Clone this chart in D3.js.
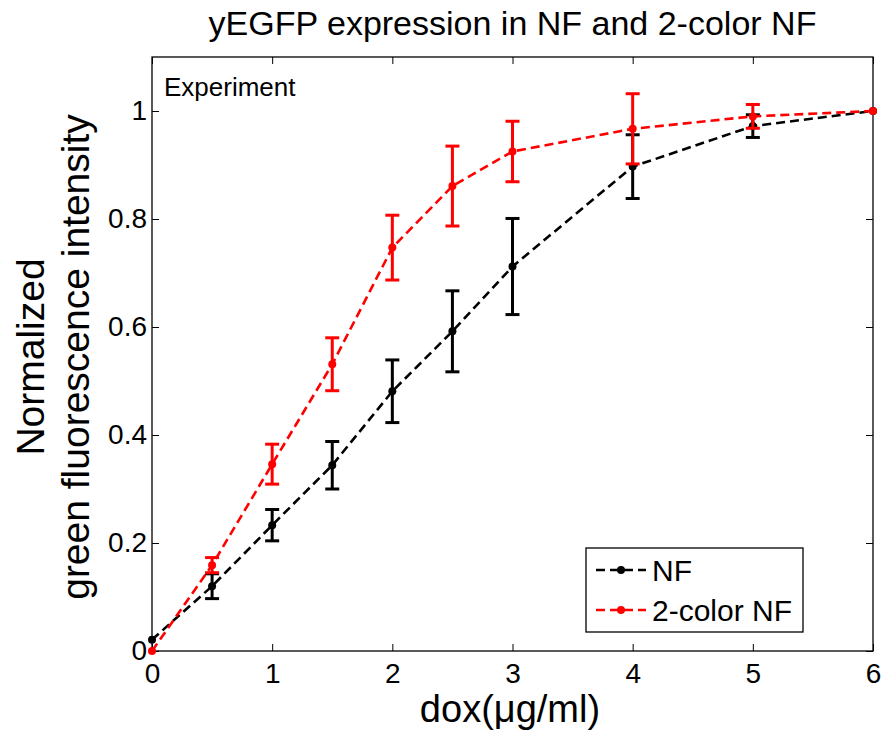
<!DOCTYPE html>
<html>
<head>
<meta charset="utf-8">
<script src="https://cdnjs.cloudflare.com/ajax/libs/d3/7.8.5/d3.min.js"></script>
<style>
  body { margin: 0; background: #fff; }
  svg text { font-family: "Liberation Sans", Arial, Helvetica, sans-serif; }
</style>
</head>
<body>
<div id="svg-container"></div>
<script>
// dox doses (x) and values
var doses      = [0, 0.5, 1, 1.5, 2, 2.5, 3, 4, 5, 6];
var nfMean     = [0.021, 0.120, 0.233, 0.344, 0.481, 0.592, 0.712, 0.897, 0.972, 1.0];
var nfErr      = [0, 0.023, 0.029, 0.044, 0.058, 0.075, 0.089, 0.059, 0.021, 0];
var twoMean    = [0, 0.159, 0.346, 0.531, 0.747, 0.861, 0.925, 0.967, 0.990, 1.0];
var twoErr     = [0, 0.014, 0.037, 0.049, 0.060, 0.074, 0.056, 0.065, 0.022, 0];
var xTicks     = [0, 1, 2, 3, 4, 5, 6];
var yTicks     = [0, 0.2, 0.4, 0.6, 0.8, 1];
var seriesNames = ["NF", "2-color NF"];
var seriesColors = ["#000000", "#ff0000"];

// establish variables
var svgWidth  = 887;
var svgHeight = 739;
var plotLeft = 152, plotRight = 873, plotTop = 57, plotBottom = 651;
var tickLen = 7;

var xScale = d3.scaleLinear().domain([0, 6]).range([plotLeft, plotRight]);
var yScale = d3.scaleLinear().domain([0, 1.1]).range([plotBottom, plotTop]);

var svg = d3.select("#svg-container")
            .append("svg")
            .attr("width", svgWidth)
            .attr("height", svgHeight);

svg.append("rect")
    .attr("width", "100%")
    .attr("height", "100%")
    .style("fill", "#fff");

// axes with inward ticks, mirrored on top and right
var xAxis = d3.axisBottom(xScale).tickValues(xTicks).tickSize(-tickLen).tickPadding(12).tickFormat(d3.format("d"));
var yAxis = d3.axisLeft(yScale).tickValues(yTicks).tickSize(-tickLen).tickPadding(5).tickFormat(d3.format("~g"));
var xAxisTop = d3.axisTop(xScale).tickValues(xTicks).tickSize(-tickLen).tickFormat("");
var yAxisRight = d3.axisRight(yScale).tickValues(yTicks).tickSize(-tickLen).tickFormat("");

function styleAxis(g, fs) {
  g.select(".domain").remove();
  g.selectAll("line").attr("stroke", "#000").attr("stroke-width", 1);
  g.selectAll("text").attr("font-size", fs).attr("fill", "#000")
    .style("font-family", "'Liberation Sans', Arial, sans-serif");
}

svg.append("g").attr("transform", "translate(0," + plotBottom + ")").call(xAxis).call(styleAxis, 28);
svg.append("g").attr("transform", "translate(" + plotLeft + ",0)").call(yAxis).call(styleAxis, 28);
svg.append("g").attr("transform", "translate(0," + plotTop + ")").call(xAxisTop).call(styleAxis, 28);
svg.append("g").attr("transform", "translate(" + plotRight + ",0)").call(yAxisRight).call(styleAxis, 28);

// plot box
svg.append("rect")
    .attr("x", plotLeft)
    .attr("y", plotTop)
    .attr("width", plotRight - plotLeft)
    .attr("height", plotBottom - plotTop)
    .attr("fill", "none")
    .attr("stroke", "#000")
    .attr("stroke-width", 1.3);

var line = d3.line()
    .x(function(d) { return xScale(d.x); })
    .y(function(d) { return yScale(d.y); });

function drawSeries(means, errs, color) {
  var pts = doses.map(function(x, i) { return { x: x, y: means[i], e: errs[i] }; });
  var g = svg.append("g");

  g.append("path")
    .datum(pts)
    .attr("d", line)
    .attr("fill", "none")
    .attr("stroke", color)
    .attr("stroke-width", 2.6)
    .attr("stroke-dasharray", "9,5");

  var bars = g.selectAll(".eb")
    .data(pts.filter(function(d) { return d.e > 0; }))
    .enter().append("g");

  bars.append("line")
    .attr("x1", function(d) { return xScale(d.x); })
    .attr("x2", function(d) { return xScale(d.x); })
    .attr("y1", function(d) { return yScale(d.y - d.e); })
    .attr("y2", function(d) { return yScale(d.y + d.e); })
    .attr("stroke", color).attr("stroke-width", 3);

  [-1, 1].forEach(function(s) {
    bars.append("line")
      .attr("x1", function(d) { return xScale(d.x) - 7; })
      .attr("x2", function(d) { return xScale(d.x) + 7; })
      .attr("y1", function(d) { return yScale(d.y + s * d.e); })
      .attr("y2", function(d) { return yScale(d.y + s * d.e); })
      .attr("stroke", color).attr("stroke-width", 3);
  });

  g.selectAll("circle")
    .data(pts)
    .enter().append("circle")
    .attr("cx", function(d) { return xScale(d.x); })
    .attr("cy", function(d) { return yScale(d.y); })
    .attr("r", 4)
    .attr("fill", color);
}

drawSeries(nfMean, nfErr, seriesColors[0]);
drawSeries(twoMean, twoErr, seriesColors[1]);

// legend
var legend = svg.append("g");
legend.append("rect")
    .attr("x", 586).attr("y", 548)
    .attr("width", 217).attr("height", 84)
    .attr("fill", "#fff").attr("stroke", "#000").attr("stroke-width", 1.3);

seriesNames.forEach(function(name, i) {
  var ly = 570 + i * 40;
  legend.append("line")
    .attr("x1", 596).attr("x2", 646)
    .attr("y1", ly).attr("y2", ly)
    .attr("stroke", seriesColors[i]).attr("stroke-width", 2.6)
    .attr("stroke-dasharray", "9,5");
  legend.append("circle")
    .attr("cx", 621).attr("cy", ly).attr("r", 4)
    .attr("fill", seriesColors[i]);
  legend.append("text")
    .attr("x", 652).attr("y", ly + 11)
    .attr("font-size", 30)
    .attr("fill", "#000")
    .text(name);
});

// "Experiment" annotation
svg.append("text")
    .attr("x", 164).attr("y", 96)
    .attr("font-size", 26)
    .attr("fill", "#000")
    .text("Experiment");

// title
svg.append("text")
    .attr("x", (plotLeft + plotRight) / 2)
    .attr("y", 35)
    .attr("text-anchor", "middle")
    .attr("font-size", 34)
    .attr("fill", "#000")
    .text("yEGFP expression in NF and 2-color NF");

// x axis label
svg.append("text")
    .attr("x", 510)
    .attr("y", 722)
    .attr("text-anchor", "middle")
    .attr("font-size", 38)
    .attr("fill", "#000")
    .text("dox(\u03bcg/ml)");

// y axis label, two lines
var yLab = svg.append("text")
    .attr("transform", "translate(44,357) rotate(-90)")
    .attr("text-anchor", "middle")
    .attr("font-size", 39)
    .attr("fill", "#000");
yLab.append("tspan").attr("x", 0).attr("y", 0).text("Normalized");
yLab.append("tspan").attr("x", 0).attr("y", 45).text("green fluorescence intensity");
</script>
</body>
</html>
